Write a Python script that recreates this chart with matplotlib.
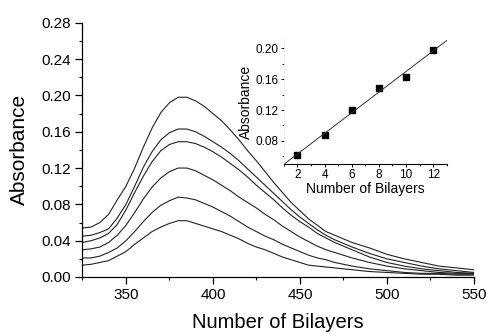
import numpy as np
import matplotlib
matplotlib.use("Agg")
import matplotlib.pyplot as plt
from matplotlib.ticker import MultipleLocator, FormatStrFormatter

plt.rcParams['font.family'] = ['Liberation Sans', 'DejaVu Sans']

# Spectra: wavelength (nm) vs absorbance for 12,10,8,6,4,2 bilayers
wavelength = [325, 330, 335, 340, 345, 350, 355, 360, 365, 370, 375, 380, 385,
              390, 395, 400, 405, 410, 415, 420, 425, 430, 435, 440, 445, 450,
              455, 460, 465, 470, 480, 490, 500, 510, 520, 530, 540, 550]
abs_12 = [0.054, 0.055, 0.060, 0.069, 0.085, 0.100, 0.120, 0.143, 0.164, 0.181,
          0.192, 0.198, 0.198, 0.194, 0.188, 0.180, 0.172, 0.162, 0.151, 0.139,
          0.128, 0.116, 0.104, 0.093, 0.082, 0.073, 0.064, 0.057, 0.050, 0.046,
          0.038, 0.032, 0.025, 0.020, 0.016, 0.012, 0.010, 0.008]
abs_10 = [0.045, 0.046, 0.049, 0.053, 0.065, 0.080, 0.100, 0.121, 0.138, 0.151,
          0.159, 0.163, 0.163, 0.160, 0.155, 0.149, 0.143, 0.136, 0.128, 0.119,
          0.110, 0.101, 0.092, 0.083, 0.074, 0.066, 0.059, 0.052, 0.046, 0.041,
          0.033, 0.026, 0.020, 0.016, 0.012, 0.009, 0.007, 0.005]
abs_8 = [0.038, 0.040, 0.043, 0.048, 0.058, 0.074, 0.093, 0.111, 0.127, 0.139,
         0.146, 0.149, 0.149, 0.147, 0.143, 0.138, 0.132, 0.125, 0.118, 0.110,
         0.101, 0.093, 0.085, 0.076, 0.068, 0.061, 0.055, 0.048, 0.043, 0.038,
         0.030, 0.022, 0.016, 0.012, 0.009, 0.007, 0.005, 0.004]
abs_6 = [0.030, 0.031, 0.033, 0.038, 0.046, 0.057, 0.071, 0.086, 0.099, 0.109,
         0.116, 0.120, 0.120, 0.117, 0.112, 0.107, 0.101, 0.095, 0.088, 0.082,
         0.076, 0.069, 0.063, 0.056, 0.050, 0.044, 0.039, 0.034, 0.030, 0.027,
         0.021, 0.016, 0.012, 0.009, 0.007, 0.005, 0.004, 0.004]
abs_4 = [0.021, 0.021, 0.023, 0.027, 0.032, 0.040, 0.050, 0.061, 0.071, 0.079,
         0.084, 0.088, 0.087, 0.085, 0.081, 0.077, 0.072, 0.067, 0.061, 0.055,
         0.050, 0.045, 0.041, 0.036, 0.032, 0.028, 0.024, 0.021, 0.019, 0.016,
         0.012, 0.009, 0.007, 0.005, 0.004, 0.004, 0.003, 0.003]
abs_2 = [0.013, 0.014, 0.016, 0.018, 0.023, 0.028, 0.036, 0.043, 0.050, 0.055,
         0.059, 0.062, 0.062, 0.059, 0.056, 0.053, 0.050, 0.046, 0.042, 0.037,
         0.033, 0.030, 0.026, 0.022, 0.019, 0.016, 0.013, 0.012, 0.011, 0.010,
         0.008, 0.006, 0.005, 0.004, 0.003, 0.003, 0.002, 0.002]
spectra = [abs_12, abs_10, abs_8, abs_6, abs_4, abs_2]

# Inset: peak absorbance vs number of bilayers
bilayers = [2, 4, 6, 8, 10, 12]
peak_abs = [0.062, 0.087, 0.120, 0.149, 0.163, 0.198]

fig = plt.figure(figsize=(4.91, 3.34), dpi=100)
ax = fig.add_axes([0.168, 0.1707, 0.797, 0.761])

for s in spectra:
    ax.plot(wavelength, s, color='#222222', lw=0.8)

ax.set_xlim(325, 550)
ax.set_ylim(0, 0.28)
ax.xaxis.set_major_locator(MultipleLocator(50))
ax.xaxis.set_minor_locator(MultipleLocator(25))
ax.yaxis.set_major_locator(MultipleLocator(0.04))
ax.yaxis.set_minor_locator(MultipleLocator(0.02))
ax.yaxis.set_major_formatter(FormatStrFormatter('%.2f'))
for side in ['top', 'right']:
    ax.spines[side].set_visible(False)
for side in ['left', 'bottom']:
    ax.spines[side].set_linewidth(0.9)
ax.tick_params(which='major', direction='out', length=5, width=0.9,
               labelsize=11, pad=3)
ax.tick_params(which='minor', direction='out', length=2.5, width=0.8)
ax.set_xlabel('Number of Bilayers', fontsize=14.5, labelpad=8)
ax.set_ylabel('Absorbance', fontsize=15, labelpad=9)

# Inset
ins = fig.add_axes([0.578, 0.509, 0.332, 0.374])
ins.plot(bilayers, peak_abs, 's', color='black', markersize=4.5)
coef = np.polyfit(bilayers, peak_abs, 1)
xfit = np.array([1, 13])
ins.plot(xfit, np.polyval(coef, xfit), color='#333333', lw=0.7)
ins.set_xlim(1, 13)
ins.set_ylim(0.05, 0.212)
ins.xaxis.set_major_locator(MultipleLocator(2))
ins.xaxis.set_minor_locator(MultipleLocator(1))
ins.yaxis.set_minor_locator(MultipleLocator(0.02))
ins.set_yticks([0.08, 0.12, 0.16, 0.20])
ins.yaxis.set_major_formatter(FormatStrFormatter('%.2f'))
ins.patch.set_alpha(0)
for side in ['top', 'right']:
    ins.spines[side].set_visible(False)
ins.spines['left'].set_color('#e6e6e6')
ins.spines['left'].set_linewidth(0.5)
ins.spines['bottom'].set_linewidth(0.8)
ins.tick_params(which='major', direction='out', length=2, width=0.7,
                labelsize=8.5, pad=1.5)
ins.tick_params(which='minor', direction='out', length=1.2, width=0.6)
ins.set_xlabel('Number of Bilayers', fontsize=10, labelpad=1)
ins.set_ylabel('Absorbance', fontsize=10, labelpad=2)

fig.savefig('out.png', dpi=100)
